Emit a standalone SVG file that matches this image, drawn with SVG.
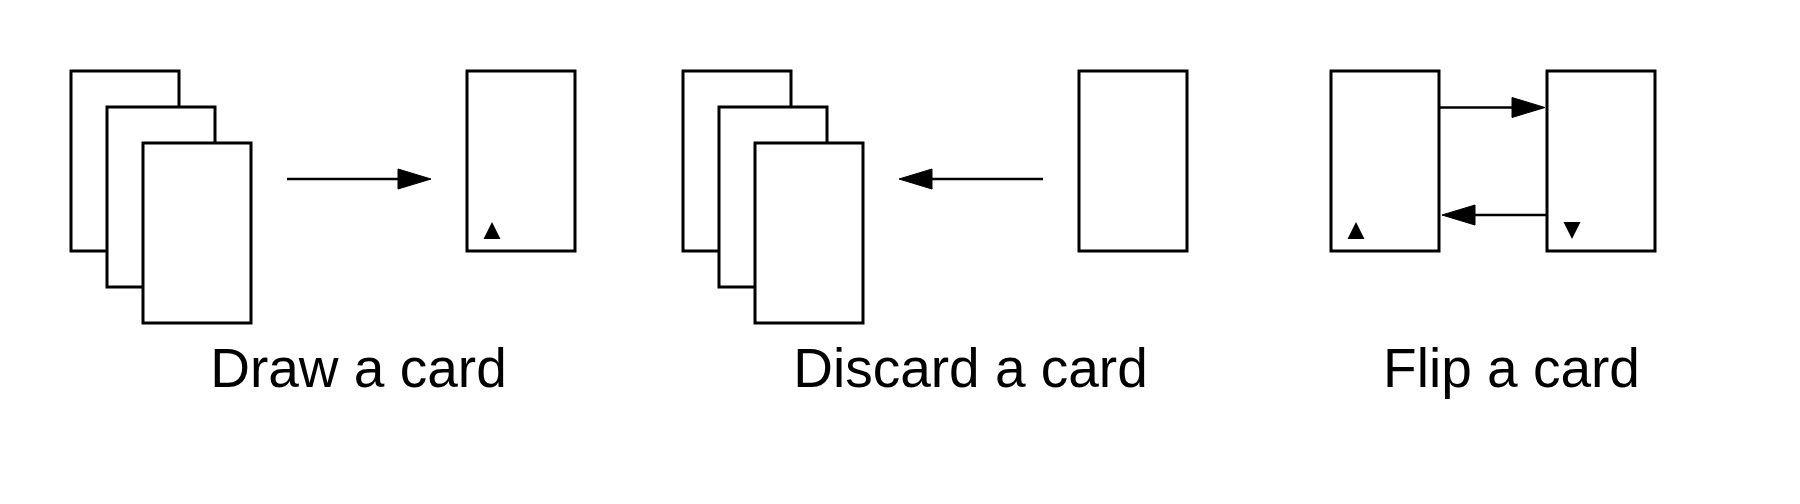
<svg xmlns="http://www.w3.org/2000/svg" width="1800" height="504" viewBox="0 0 1800 504">
<style>
.card{fill:#fff;stroke:#000;stroke-width:3}
.conn{stroke:#000;stroke-width:2.5;fill:none}
.head{fill:#000;stroke:#000;stroke-width:1}
.pip{fill:#000}
.lbl{font-family:"Liberation Sans",Arial,sans-serif;font-size:55px;fill:#000;text-anchor:middle}
</style>
<rect width="1800" height="504" fill="#fff"/>
<g id="draw-deck">
<rect class="card" x="71" y="71" width="108" height="180"/>
<rect class="card" x="107" y="107" width="108" height="180"/>
<rect class="card" x="143" y="143" width="108" height="180"/>
</g>
<g id="draw-card">
<rect class="card" x="467" y="71" width="108" height="180"/>
<path class="pip" d="M492,222 L500.5,239 L483.5,239 z"/>
</g>
<g id="discard-deck">
<rect class="card" x="683" y="71" width="108" height="180"/>
<rect class="card" x="719" y="107" width="108" height="180"/>
<rect class="card" x="755" y="143" width="108" height="180"/>
</g>
<g id="discard-card">
<rect class="card" x="1079" y="71" width="108" height="180"/>
</g>
<g id="flip-card-up">
<rect class="card" x="1331" y="71" width="108" height="180"/>
<path class="pip" d="M1356,222 L1364.5,239 L1347.5,239 z"/>
</g>
<g id="flip-card-down">
<rect class="card" x="1547" y="71" width="108" height="180"/>
<path class="pip" d="M1563.5,222 L1580.5,222 L1572,239 z"/>
</g>
<g id="connectors">
<line class="conn" x1="287" y1="179" x2="400" y2="179"/>
<path class="head" d="M398,169 L431,179 L398,189 z"/>
<line class="conn" x1="1043" y1="179" x2="930" y2="179"/>
<path class="head" d="M932,169 L899,179 L932,189 z"/>
<line class="conn" x1="1439" y1="107.5" x2="1514" y2="107.5"/>
<path class="head" d="M1512,97.5 L1545,107.5 L1512,117.5 z"/>
<line class="conn" x1="1546" y1="215" x2="1473" y2="215"/>
<path class="head" d="M1475,205 L1442,215 L1475,225 z"/>
</g>
<g id="labels">
<text class="lbl" x="358.5" y="387">Draw a card</text>
<text class="lbl" x="970.5" y="387">Discard a card</text>
<text class="lbl" x="1511.5" y="387">Flip a card</text>
</g>
</svg>
